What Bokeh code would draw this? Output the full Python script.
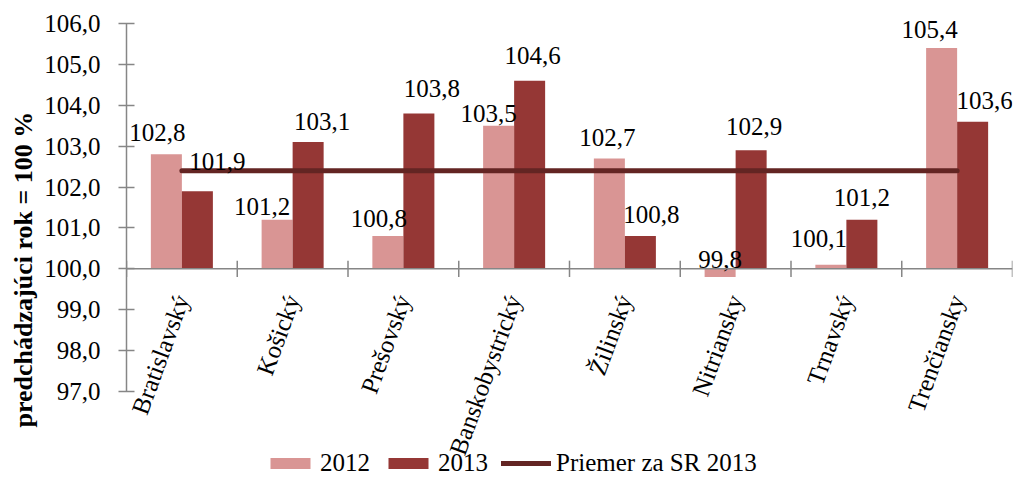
import math
from bokeh.plotting import figure
from bokeh.models import (ColumnDataSource, FactorRange, Range1d, FixedTicker, Span,
                          Title, Legend, LegendItem)
from bokeh.transform import dodge
from bokeh.core.properties import value
from bokeh.embed import file_html
from bokeh.resources import INLINE

# ---- data ----
categories = ["Bratislavský", "Košický", "Prešovský", "Banskobystrický",
              "Žilinský", "Nitriansky", "Trnavský", "Trenčiansky"]
values_2012 = [102.8, 101.2, 100.8, 103.5, 102.7, 99.8, 100.1, 105.4]
values_2013 = [101.9, 103.1, 103.8, 104.6, 100.8, 102.9, 101.2, 103.6]
avg_sr_2013 = 102.4
y_ticks = [97, 98, 99, 100, 101, 102, 103, 104, 105, 106]
y_tick_labels = ["97,0", "98,0", "99,0", "100,0", "101,0", "102,0",
                 "103,0", "104,0", "105,0", "106,0"]
series_names = ["2012", "2013", "Priemer za SR 2013"]
y_title = "predchádzajúci rok = 100 %"

# ---- style ----
C2012 = "#D99594"
C2013 = "#953735"
CLINE = "#632523"
AXIS = "#868686"
FONT = "Liberation Serif"
FS = "25px"
# pixel nudges of data labels (dx, dy above the bar top)
lab_dx_2012 = [-9, -15, -9, -10, -2, 0, -12, -12]
lab_dy_2012 = [22, 13, 18, 12, 21, 18, 26, 19]
lab_dx_2013 = [20, 14, 13, 3, 11, 3, 0, 12]
lab_dy_2013 = [30, 21, 25, 25, 22, 24, 22, 21]

def fmt(v):
    return ("%.1f" % v).replace(".", ",")

src = ColumnDataSource(dict(
    cat=categories,
    v2012=values_2012,
    v2013=values_2013,
    t2012=[fmt(v) for v in values_2012],
    t2013=[fmt(v) for v in values_2013],
    dx2012=lab_dx_2012,
    dy2012=[-d for d in lab_dy_2012],
    dx2013=lab_dx_2013,
    dy2013=[-d for d in lab_dy_2013],
))

p = figure(width=1019, height=482,
           x_range=FactorRange(factors=categories, range_padding=0),
           y_range=Range1d(94.7745, 106.5625),
           output_backend="svg", toolbar_location=None,
           min_border_left=126, min_border_right=7,
           min_border_top=0, min_border_bottom=0)
p.outline_line_color = None
p.xgrid.visible = False
p.ygrid.visible = False
p.xaxis.visible = False
p.background_fill_color = "white"

# y axis
ya = p.yaxis[0]
ya.ticker = FixedTicker(ticks=y_ticks)
ya.major_label_overrides = {t: l for t, l in zip(y_ticks, y_tick_labels)}
ya.bounds = (y_ticks[0], y_ticks[-1])
ya.axis_line_color = AXIS
ya.axis_line_width = 1.5
ya.major_tick_line_color = AXIS
ya.major_tick_line_width = 1.5
ya.major_tick_in = 8
ya.major_tick_out = 8
ya.minor_tick_line_color = None
ya.major_label_text_font = FONT
ya.major_label_text_font_size = FS
ya.major_label_text_color = "black"
ya.major_label_standoff = 18

# bars
w = 0.28
r12 = p.vbar(x=dodge("cat", -w / 2, range=p.x_range), bottom=100, top="v2012",
             width=w, source=src, fill_color=C2012, line_color=None)
r13 = p.vbar(x=dodge("cat", w / 2, range=p.x_range), bottom=100, top="v2013",
             width=w, source=src, fill_color=C2013, line_color=None)

# x axis line at 100 and category ticks
p.add_layout(Span(location=100, dimension="width", line_color=AXIS, line_width=1.5))
p.segment(x0=dodge("cat", -0.5, range=p.x_range), x1=dodge("cat", -0.5, range=p.x_range),
          y0=99.8, y1=100.2, source=src, line_color=AXIS, line_width=1.5)
end_src = ColumnDataSource(dict(cat=[categories[-1]]))
p.segment(x0=dodge("cat", 0.5, range=p.x_range), x1=dodge("cat", 0.5, range=p.x_range),
          y0=99.8, y1=100.2, source=end_src, line_color=AXIS, line_width=1.5)

# average line
rl = p.line(x=[categories[0], categories[-1]], y=[avg_sr_2013, avg_sr_2013],
            line_color=CLINE, line_width=5, line_cap="round")

# data labels
p.text(x=dodge("cat", -w / 2, range=p.x_range), y="v2012", text="t2012", source=src,
       x_offset="dx2012", y_offset="dy2012", text_align="center", text_baseline="middle",
       text_font=value(FONT), text_font_size=FS, text_color="black")
p.text(x=dodge("cat", w / 2, range=p.x_range), y="v2013", text="t2013", source=src,
       x_offset="dx2013", y_offset="dy2013", text_align="center", text_baseline="middle",
       text_font=value(FONT), text_font_size=FS, text_color="black")

# rotated category labels
p.text(x="cat", y=100, text="cat", source=src, angle=math.radians(70),
       x_offset=0, y_offset=27, text_align="right", text_baseline="middle",
       text_font=value(FONT), text_font_size=FS, text_color="black")

# y axis title
p.add_layout(Title(text=y_title, align="left", offset=55, standoff=7,
                   text_font=FONT, text_font_size="26px", text_font_style="bold",
                   text_color="black"), "left")

legend = Legend(items=[LegendItem(label=series_names[0], renderers=[r12]),
                       LegendItem(label=series_names[1], renderers=[r13]),
                       LegendItem(label=series_names[2], renderers=[rl])],
                orientation="horizontal", location=(139, 5),
                glyph_width=50, glyph_height=14, label_standoff=5, spacing=13,
                padding=0, margin=0, background_fill_alpha=0, border_line_color=None,
                label_text_font=FONT, label_text_font_size=FS, label_text_color="black")
p.add_layout(legend, "center")

open("out.html", "w").write(file_html(p, INLINE))
